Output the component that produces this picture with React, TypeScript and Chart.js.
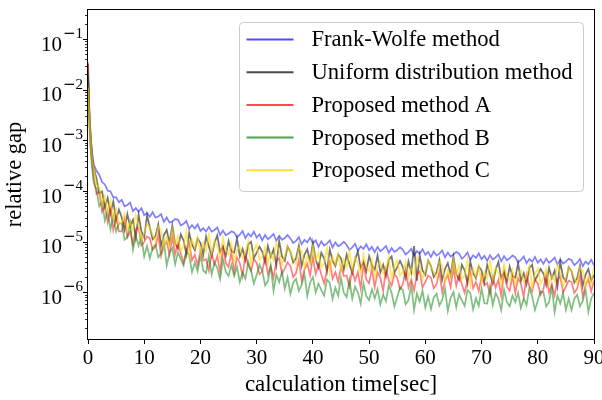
import React, { useEffect, useRef } from "react";
import { Chart, registerables } from "chart.js";

Chart.register(...registerables);

// ---------------- data ----------------
const TIMES = [
  0, 0.2, 0.4, 0.6, 0.8,
  1, 1.5, 2, 2.5, 3, 3.5, 4, 4.5, 5, 5.5,
  6, 6.5, 7, 7.5, 8, 8.5, 9, 9.5, 10, 10.5,
  11, 11.5, 12, 12.5, 13, 13.5, 14, 14.5, 15, 15.5,
  16, 16.5, 17, 17.5, 18, 18.5, 19, 19.5, 20, 20.5,
  21, 21.5, 22, 22.5, 23, 23.5, 24, 24.5, 25, 25.5,
  26, 26.5, 27, 27.5, 28, 28.5, 29, 29.5, 30, 30.5,
  31, 31.5, 32, 32.5, 33, 33.5, 34, 34.5, 35, 35.5,
  36, 36.5, 37, 37.5, 38, 38.5, 39, 39.5, 40, 40.5,
  41, 41.5, 42, 42.5, 43, 43.5, 44, 44.5, 45, 45.5,
  46, 46.5, 47, 47.5, 48, 48.5, 49, 49.5, 50, 50.5,
  51, 51.5, 52, 52.5, 53, 53.5, 54, 54.5, 55, 55.5,
  56, 56.5, 57, 57.5, 58, 58.5, 59, 59.5, 60, 60.5,
  61, 61.5, 62, 62.5, 63, 63.5, 64, 64.5, 65, 65.5,
  66, 66.5, 67, 67.5, 68, 68.5, 69, 69.5, 70, 70.5,
  71, 71.5, 72, 72.5, 73, 73.5, 74, 74.5, 75, 75.5,
  76, 76.5, 77, 77.5, 78, 78.5, 79, 79.5, 80, 80.5,
  81, 81.5, 82, 82.5, 83, 83.5, 84, 84.5, 85, 85.5,
  86, 86.5, 87, 87.5, 88, 88.5, 89, 89.5, 90,
];

const FRANK_WOLFE = [
  2.0e-2, 4.5e-3, 1.6e-3, 8.0e-4, 5.0e-4,
  3.4e-4, 2.5e-4, 2.1e-4, 1.5e-4, 1.35e-4, 1.02e-4, 9.8e-5, 7.5e-5, 7.5e-5, 6.0e-5,
  6.7e-5, 5.0e-5, 5.3e-5, 5.9e-5, 4.0e-5, 4.6e-5, 3.9e-5, 4.6e-5, 3.35e-5, 3.7e-5,
  3.1e-5, 3.8e-5, 3.0e-5, 3.15e-5, 3.5e-5, 2.46e-5, 3.0e-5, 2.4e-5, 2.5e-5, 2.8e-5,
  2.7e-5, 2.1e-5, 2.25e-5, 2.55e-5, 1.8e-5, 2.13e-5, 1.82e-5, 2.2e-5, 1.63e-5, 1.84e-5,
  1.58e-5, 1.96e-5, 1.58e-5, 1.7e-5, 1.9e-5, 1.36e-5, 1.65e-5, 1.35e-5, 1.44e-5, 1.6e-5,
  1.53e-5, 1.23e-5, 1.37e-5, 1.62e-5, 1.18e-5, 1.44e-5, 1.27e-5, 1.58e-5, 1.2e-5, 1.4e-5,
  1.06e-5, 1.36e-5, 1.12e-5, 1.24e-5, 1.42e-5, 1.04e-5, 1.3e-5, 1.09e-5, 1.18e-5, 1.35e-5,
  1.16e-5, 9.4e-6, 1.04e-5, 1.23e-5, 8.9e-6, 1.09e-5, 9.7e-6, 1.2e-5, 9.2e-6, 1.06e-5,
  7.9e-6, 1.01e-5, 8.4e-6, 9.2e-6, 1.06e-5, 7.7e-6, 9.7e-6, 8.1e-6, 8.8e-6, 1.0e-5,
  8.6e-6, 6.9e-6, 7.7e-6, 9.1e-6, 6.6e-6, 8.1e-6, 7.2e-6, 8.9e-6, 6.8e-6, 7.9e-6,
  6.2e-6, 7.9e-6, 6.5e-6, 7.2e-6, 8.2e-6, 6.0e-6, 7.5e-6, 6.3e-6, 6.85e-6, 7.8e-6,
  6.9e-6, 5.6e-6, 6.2e-6, 7.3e-6, 5.3e-6, 6.5e-6, 5.8e-6, 7.1e-6, 5.5e-6, 6.3e-6,
  5.0e-6, 6.4e-6, 5.3e-6, 5.8e-6, 6.7e-6, 4.9e-6, 6.1e-6, 5.1e-6, 5.55e-6, 6.3e-6,
  5.8e-6, 4.6e-6, 5.15e-6, 6.1e-6, 4.4e-6, 5.4e-6, 4.8e-6, 5.9e-6, 4.5e-6, 5.25e-6,
  4.2e-6, 5.4e-6, 4.45e-6, 4.9e-6, 5.6e-6, 4.1e-6, 5.2e-6, 4.3e-6, 4.7e-6, 5.35e-6,
  4.9e-6, 3.9e-6, 4.35e-6, 5.1e-6, 3.75e-6, 4.55e-6, 4.05e-6, 5.0e-6, 3.85e-6, 4.45e-6,
  3.65e-6, 4.65e-6, 3.85e-6, 4.25e-6, 4.85e-6, 3.55e-6, 4.45e-6, 3.7e-6, 4.05e-6, 4.6e-6,
  4.3e-6, 3.45e-6, 3.85e-6, 4.55e-6, 3.3e-6, 4.05e-6, 3.6e-6, 4.4e-6, 3.4e-6,
];

const UNIFORM = [
  3.2e-2, 5.0e-3, 1.8e-3, 8.0e-4, 4.2e-4,
  2.9e-4, 1.8e-4, 9.0e-5, 9.8e-5, 4.8e-5, 7.3e-5, 3.6e-5, 6.2e-5, 2.7e-5, 4.3e-5,
  3.0e-5, 1.7e-5, 3.5e-5, 2.0e-5, 2.7e-5, 1.2e-5, 3.4e-5, 1.6e-5, 1.2e-5, 3.3e-5,
  1.9e-5, 1.12e-5, 1.28e-5, 2.2e-5, 8.4e-6, 1.35e-5, 1.7e-5, 9.4e-6, 2.1e-5, 9.2e-6,
  7.3e-6, 1.4e-5, 1.05e-5, 5.6e-6, 1.5e-5, 8.8e-6, 6.8e-6, 1.15e-5, 9.5e-6, 5.6e-6,
  1.27e-5, 8.0e-6, 5.2e-6, 9.4e-6, 1.34e-5, 6.2e-6, 8.1e-6, 5.2e-6, 1.03e-5, 6.6e-6,
  6.1e-6, 1.16e-5, 5.1e-6, 7.2e-6, 4.3e-6, 8.8e-6, 1.0e-5, 4.8e-6, 6.1e-6, 8.0e-6,
  6.3e-6, 3.9e-6, 8.3e-6, 5.0e-6, 7.1e-6, 3.4e-6, 1.04e-5, 5.1e-6, 4.2e-6, 8.0e-6,
  6.3e-6, 3.9e-6, 4.7e-6, 8.3e-6, 3.3e-6, 5.5e-6, 7.1e-6, 4.1e-6, 9.6e-6, 4.4e-6,
  3.1e-6, 6.1e-6, 4.7e-6, 2.6e-6, 7.0e-6, 4.2e-6, 3.3e-6, 5.6e-6, 4.7e-6, 2.8e-6,
  5.6e-6, 3.6e-6, 2.4e-6, 4.4e-6, 6.4e-6, 3.0e-6, 4.0e-6, 2.6e-6, 5.2e-6, 3.4e-6,
  2.8e-6, 5.4e-6, 2.45e-6, 3.5e-6, 2.1e-6, 4.4e-6, 5.1e-6, 2.45e-6, 3.15e-6, 4.2e-6,
  3.15e-6, 1.9e-6, 4.1e-6, 2.5e-6, 8.2e-6, 1.7e-6, 5.4e-6, 2.7e-6, 2.2e-6, 4.25e-6,
  3.3e-6, 2.0e-6, 2.5e-6, 4.35e-6, 1.75e-6, 2.9e-6, 3.8e-6, 2.2e-6, 5.1e-6, 2.3e-6,
  1.75e-6, 3.5e-6, 2.7e-6, 1.5e-6, 4.05e-6, 2.4e-6, 1.9e-6, 3.25e-6, 2.7e-6, 1.6e-6,
  3.5e-6, 2.25e-6, 1.5e-6, 2.75e-6, 4.0e-6, 1.9e-6, 2.5e-6, 1.6e-6, 3.25e-6, 2.1e-6,
  1.95e-6, 3.75e-6, 1.7e-6, 2.4e-6, 1.45e-6, 3.0e-6, 3.5e-6, 1.7e-6, 2.2e-6, 2.9e-6,
  2.35e-6, 1.4e-6, 3.05e-6, 1.9e-6, 2.7e-6, 1.3e-6, 4.0e-6, 2.0e-6, 1.65e-6, 3.15e-6,
  2.6e-6, 1.55e-6, 1.9e-6, 3.35e-6, 1.35e-6, 2.25e-6, 2.9e-6, 1.7e-6, 2.2e-6,
];

const PROPOSED_A = [
  3.5e-2, 3.2e-3, 1.1e-3, 5.0e-4, 3.0e-4,
  2.0e-4, 8.8e-5, 9.8e-5, 3.9e-5, 5.3e-5, 2.4e-5, 4.3e-5, 1.7e-5, 3.1e-5, 1.6e-5,
  1.6e-5, 2.85e-5, 1.22e-5, 1.6e-5, 9.0e-6, 1.75e-5, 1.9e-5, 8.4e-6, 9.9e-6, 1.27e-5,
  1.17e-5, 6.9e-6, 8.0e-6, 1.35e-5, 5.2e-6, 8.2e-6, 1.01e-5, 5.6e-6, 1.26e-5, 5.6e-6,
  9.4e-6, 5.85e-6, 3.8e-6, 6.7e-6, 9.4e-6, 4.3e-6, 5.5e-6, 3.45e-6, 6.6e-6, 4.25e-6,
  4.5e-6, 2.7e-6, 5.85e-6, 3.6e-6, 5.2e-6, 2.5e-6, 7.65e-6, 3.8e-6, 3.15e-6, 6.1e-6,
  2.5e-6, 4.9e-6, 3.8e-6, 2.1e-6, 5.7e-6, 3.4e-6, 2.65e-6, 4.55e-6, 3.8e-6, 2.3e-6,
  2.6e-6, 5.1e-6, 2.3e-6, 3.27e-6, 1.95e-6, 4.1e-6, 4.75e-6, 2.3e-6, 2.95e-6, 3.9e-6,
  3.3e-6, 2.0e-6, 2.4e-6, 4.3e-6, 1.7e-6, 2.85e-6, 3.7e-6, 2.15e-6, 5.0e-6, 2.3e-6,
  3.5e-6, 2.25e-6, 1.5e-6, 2.7e-6, 4.0e-6, 1.85e-6, 2.5e-6, 1.6e-6, 3.2e-6, 2.1e-6,
  2.15e-6, 1.3e-6, 2.8e-6, 1.7e-6, 2.5e-6, 1.2e-6, 3.65e-6, 1.8e-6, 1.5e-6, 2.9e-6,
  1.25e-6, 2.5e-6, 1.94e-6, 1.07e-6, 2.9e-6, 1.75e-6, 1.35e-6, 2.3e-6, 1.94e-6, 1.15e-6,
  1.45e-6, 2.8e-6, 1.25e-6, 1.8e-6, 1.08e-6, 2.25e-6, 2.6e-6, 1.25e-6, 1.6e-6, 2.15e-6,
  1.95e-6, 1.2e-6, 1.45e-6, 2.55e-6, 1.0e-6, 1.7e-6, 2.2e-6, 1.28e-6, 3.0e-6, 1.35e-6,
  2.25e-6, 1.45e-6, 9.7e-7, 1.77e-6, 2.6e-6, 1.2e-6, 1.6e-6, 1.05e-6, 2.1e-6, 1.37e-6,
  1.54e-6, 9.2e-7, 2.0e-6, 1.23e-6, 1.77e-6, 8.5e-7, 2.6e-6, 1.3e-6, 1.08e-6, 2.1e-6,
  9.6e-7, 1.9e-6, 1.48e-6, 8.1e-7, 2.2e-6, 1.33e-6, 1.04e-6, 1.78e-6, 1.48e-6, 8.9e-7,
  1.15e-6, 2.2e-6, 1.0e-6, 1.43e-6, 8.6e-7, 1.8e-6, 2.05e-6, 1.0e-6, 1.3e-6, 1.7e-6,
  1.6e-6, 9.7e-7, 1.18e-6, 2.1e-6, 8.3e-7, 1.39e-6, 1.8e-6, 1.04e-6, 1.7e-6,
];

const PROPOSED_B = [
  2.2e-2, 2.6e-3, 9.0e-4, 4.0e-4, 2.4e-4,
  1.45e-4, 1.08e-4, 5.0e-5, 6.1e-5, 2.6e-5, 4.0e-5, 1.75e-5, 3.25e-5, 1.6e-5, 2.3e-5,
  2.3e-5, 1.09e-5, 1.23e-5, 2.3e-5, 6.9e-6, 1.32e-5, 8.4e-6, 1.24e-5, 5.1e-6, 8.2e-6,
  4.7e-6, 7.6e-6, 8.8e-6, 4.9e-6, 6.0e-6, 9.8e-6, 3.4e-6, 6.0e-6, 7.5e-6, 3.6e-6,
  6.2e-6, 4.5e-6, 3.4e-6, 6.5e-6, 5.4e-6, 2.5e-6, 3.9e-6, 2.6e-6, 5.4e-6, 2.7e-6,
  2.4e-6, 5.25e-6, 2.25e-6, 3.9e-6, 3.0e-6, 1.8e-6, 4.5e-6, 2.55e-6, 2.1e-6, 3.45e-6,
  2.1e-6, 3.2e-6, 1.6e-6, 2.48e-6, 1.86e-6, 4.0e-6, 2.7e-6, 1.5e-6, 2.2e-6, 3.5e-6,
  2.65e-6, 1.38e-6, 1.67e-6, 3.35e-6, 1.08e-6, 2.25e-6, 1.58e-6, 2.55e-6, 1.18e-6, 1.97e-6,
  9.3e-7, 1.55e-6, 1.86e-6, 1.08e-6, 1.4e-6, 2.3e-6, 8.5e-7, 1.55e-6, 2.0e-6, 1.0e-6,
  1.48e-6, 1.1e-6, 8.6e-7, 1.78e-6, 1.54e-6, 7.4e-7, 1.23e-6, 8.6e-7, 1.9e-6, 9.8e-7,
  8.0e-7, 1.75e-6, 7.5e-7, 1.3e-6, 1.0e-6, 6.0e-7, 1.5e-6, 8.5e-7, 7.0e-7, 1.15e-6,
  7.6e-7, 1.16e-6, 5.8e-7, 8.9e-7, 6.7e-7, 1.42e-6, 9.8e-7, 5.3e-7, 8.0e-7, 1.25e-6,
  1.11e-6, 5.8e-7, 7.0e-7, 1.4e-6, 4.5e-7, 9.5e-7, 6.6e-7, 1.07e-6, 5.0e-7, 8.25e-7,
  4.7e-7, 7.85e-7, 9.4e-7, 5.5e-7, 7.1e-7, 1.18e-6, 4.3e-7, 7.85e-7, 1.02e-6, 5.1e-7,
  9.2e-7, 6.9e-7, 5.4e-7, 1.11e-6, 9.6e-7, 4.6e-7, 7.65e-7, 5.4e-7, 1.19e-6, 6.1e-7,
  6.0e-7, 1.31e-6, 5.6e-7, 9.8e-7, 7.5e-7, 4.5e-7, 1.13e-6, 6.4e-7, 5.3e-7, 8.6e-7,
  6.4e-7, 9.8e-7, 4.9e-7, 7.5e-7, 5.6e-7, 1.2e-6, 8.3e-7, 4.5e-7, 6.8e-7, 1.05e-6,
  1.01e-6, 5.3e-7, 6.4e-7, 1.28e-6, 4.1e-7, 8.6e-7, 6.0e-7, 9.8e-7, 4.5e-7, 7.5e-7,
  4.5e-7, 7.5e-7, 9.0e-7, 5.3e-7, 6.8e-7, 1.13e-6, 4.1e-7, 7.5e-7, 9.8e-7,
];

const PROPOSED_C = [
  1.1e-2, 4.0e-3, 1.5e-3, 7.0e-4, 3.8e-4,
  2.9e-4, 1.3e-4, 1.2e-4, 5.7e-5, 8.0e-5, 3.9e-5, 6.4e-5, 2.9e-5, 4.4e-5, 2.2e-5,
  2.4e-5, 3.45e-5, 1.65e-5, 2.4e-5, 1.65e-5, 3.35e-5, 2.1e-5, 1.08e-5, 1.5e-5, 2.25e-5,
  1.9e-5, 1.37e-5, 1.0e-5, 2.0e-5, 1.66e-5, 7.7e-6, 1.24e-5, 8.3e-6, 1.77e-5, 8.7e-6,
  1.28e-5, 6.7e-6, 8.1e-6, 1.6e-5, 5.2e-6, 1.09e-5, 7.6e-6, 1.24e-5, 5.7e-6, 9.5e-6,
  6.4e-6, 1.4e-5, 6.0e-6, 1.04e-5, 8.0e-6, 4.8e-6, 1.2e-5, 6.8e-6, 5.6e-6, 9.2e-6,
  4.05e-6, 6.75e-6, 8.1e-6, 4.7e-6, 6.1e-6, 1.01e-5, 3.7e-6, 6.75e-6, 8.8e-6, 4.4e-6,
  5.0e-6, 7.7e-6, 3.8e-6, 5.9e-6, 4.4e-6, 9.4e-6, 6.5e-6, 3.5e-6, 5.3e-6, 8.3e-6,
  6.2e-6, 4.7e-6, 3.6e-6, 7.5e-6, 6.5e-6, 3.1e-6, 5.2e-6, 3.6e-6, 8.1e-6, 4.2e-6,
  6.0e-6, 3.1e-6, 3.8e-6, 7.6e-6, 2.45e-6, 5.1e-6, 3.6e-6, 5.8e-6, 2.7e-6, 4.45e-6,
  3.05e-6, 6.6e-6, 2.85e-6, 4.9e-6, 3.8e-6, 2.3e-6, 5.7e-6, 3.2e-6, 2.65e-6, 4.4e-6,
  2.0e-6, 3.3e-6, 4.0e-6, 2.3e-6, 3.0e-6, 4.95e-6, 1.8e-6, 3.3e-6, 4.3e-6, 2.15e-6,
  2.55e-6, 3.9e-6, 1.95e-6, 3.0e-6, 2.25e-6, 4.8e-6, 3.3e-6, 1.8e-6, 2.7e-6, 4.2e-6,
  3.3e-6, 2.5e-6, 1.95e-6, 4.0e-6, 3.45e-6, 1.65e-6, 2.75e-6, 1.95e-6, 4.3e-6, 2.2e-6,
  3.45e-6, 1.8e-6, 2.2e-6, 4.35e-6, 1.4e-6, 2.95e-6, 2.05e-6, 3.35e-6, 1.55e-6, 2.55e-6,
  1.9e-6, 4.2e-6, 1.8e-6, 3.1e-6, 2.4e-6, 1.45e-6, 3.6e-6, 2.05e-6, 1.7e-6, 2.75e-6,
  1.4e-6, 2.3e-6, 2.75e-6, 1.6e-6, 2.05e-6, 3.45e-6, 1.25e-6, 2.3e-6, 3.0e-6, 1.5e-6,
  1.9e-6, 2.9e-6, 1.45e-6, 2.2e-6, 1.65e-6, 3.55e-6, 2.45e-6, 1.35e-6, 2.0e-6, 3.1e-6,
  2.55e-6, 1.9e-6, 1.5e-6, 3.1e-6, 2.65e-6, 1.3e-6, 2.15e-6, 1.5e-6, 3.3e-6,
];

const SERIES_LABELS = [
  "Frank-Wolfe method",
  "Uniform distribution method",
  "Proposed method A",
  "Proposed method B",
  "Proposed method C",
];

const X_MIN = 0;
const X_MAX = 90;
const X_STEP = 10;
const Y_MIN = 1.2e-7;
const Y_MAX = 0.374;
const Y_MAJOR_TICKS = [1e-1, 1e-2, 1e-3, 1e-4, 1e-5, 1e-6];
const Y_MAJOR_EXPONENTS = ["1", "2", "3", "4", "5", "6"];
const Y_MINOR_DECADES = [1e-7, 1e-6, 1e-5, 1e-4, 1e-3, 1e-2, 1e-1];
const Y_MINOR_MULTIPLIERS = [2, 3, 4, 5, 6, 7, 8, 9];

// ---------------- styles ----------------
const LINE_COLORS = [
  "rgba(0,0,255,0.5)",
  "rgba(0,0,0,0.55)",
  "rgba(255,0,0,0.5)",
  "rgba(0,128,0,0.5)",
  "rgba(255,215,0,0.6)",
];
const LEGEND_COLORS = [
  "rgba(0,0,255,0.7)",
  "rgba(0,0,0,0.7)",
  "rgba(255,0,0,0.7)",
  "rgba(0,128,0,0.7)",
  "rgba(255,215,0,0.8)",
];
const SERIF = '"Liberation Serif", "Times New Roman", serif';

const decorPlugin = {
  id: "decor",
  afterDraw(chart: any) {
    const { ctx, chartArea: a, scales } = chart;
    const y = scales.y;
    ctx.save();
    // frame
    ctx.strokeStyle = "#000";
    ctx.lineWidth = 1;
    ctx.strokeRect(a.left - 0.5, a.top - 0.5, a.right - a.left + 1, a.bottom - a.top + 1);

    // minor y ticks
    ctx.lineWidth = 0.8;
    ctx.beginPath();
    for (const d of Y_MINOR_DECADES) {
      for (const m of Y_MINOR_MULTIPLIERS) {
        const v = d * m;
        if (v < Y_MIN || v > Y_MAX) continue;
        const py = Math.round(y.getPixelForValue(v)) + 0.5;
        ctx.moveTo(a.left - 3, py);
        ctx.lineTo(a.left, py);
      }
    }
    ctx.stroke();

    // major y ticks + labels
    ctx.lineWidth = 1;
    ctx.fillStyle = "#000";
    Y_MAJOR_TICKS.forEach((v, i) => {
      const py0 = y.getPixelForValue(v);
      const py = Math.round(py0) + 0.5;
      ctx.beginPath();
      ctx.moveTo(a.left - 5, py);
      ctx.lineTo(a.left, py);
      ctx.stroke();

      const xr = a.left - 5;
      ctx.textBaseline = "alphabetic";
      ctx.textAlign = "left";
      ctx.font = "15px " + SERIF;
      const digitW = ctx.measureText(Y_MAJOR_EXPONENTS[i]).width;
      ctx.font = '15px "DejaVu Sans"';
      const minusW = ctx.measureText("\u2212").width;
      ctx.font = "21px " + SERIF;
      const baseW = ctx.measureText("10").width;
      const supX = xr - digitW - minusW;
      ctx.fillText("10", supX - 1 - baseW, py0 + 11.5);
      ctx.font = '15px "DejaVu Sans"';
      ctx.fillText("\u2212", supX, py0 - 1);
      ctx.font = "15px " + SERIF;
      ctx.fillText(Y_MAJOR_EXPONENTS[i], supX + minusW, py0 - 1);
    });

    // legend
    const lx = a.left + 151.5;
    const ly = a.top + 12.5;
    const lw = 344;
    const lh = 169;
    ctx.beginPath();
    (ctx as any).roundRect(lx, ly, lw, lh, 4);
    ctx.fillStyle = "rgba(255,255,255,0.8)";
    ctx.fill();
    ctx.strokeStyle = "#cccccc";
    ctx.lineWidth = 1;
    ctx.stroke();
    ctx.font = "22.6px " + SERIF;
    ctx.textBaseline = "middle";
    SERIES_LABELS.forEach((label, i) => {
      const ry = ly + 17 + i * 32.7;
      ctx.beginPath();
      ctx.strokeStyle = LEGEND_COLORS[i];
      ctx.lineWidth = 2;
      ctx.moveTo(lx + 7, ry);
      ctx.lineTo(lx + 54, ry);
      ctx.stroke();
      ctx.fillStyle = "#000";
      ctx.fillText(label, lx + 72, ry + 1);
    });
    ctx.restore();
  },
};

export default function App() {
  const canvasRef = useRef<HTMLCanvasElement | null>(null);

  useEffect(() => {
    const canvas = canvasRef.current;
    if (!canvas) return;
    const series = [FRANK_WOLFE, UNIFORM, PROPOSED_A, PROPOSED_B, PROPOSED_C];
    const chart = new Chart(canvas, {
      type: "line",
      data: {
        datasets: series.map((vals, i) => ({
          label: SERIES_LABELS[i],
          data: TIMES.map((t, j) => ({ x: t, y: vals[j] })),
          borderColor: LINE_COLORS[i],
          backgroundColor: LINE_COLORS[i],
          borderWidth: 1.7,
          pointRadius: 0,
          tension: 0,
          fill: false,
          order: series.length - i,
        })),
      },
      options: {
        responsive: false,
        animation: false,
        devicePixelRatio: 1,
        layout: { padding: { left: 0, right: 8, top: 10, bottom: 0 } },
        plugins: {
          legend: { display: false },
          tooltip: { enabled: false },
        },
        scales: {
          x: {
            type: "linear",
            min: X_MIN,
            max: X_MAX,
            ticks: {
              stepSize: X_STEP,
              autoSkip: false,
              maxRotation: 0,
              color: "#000",
              padding: 2,
              font: { family: SERIF, size: 21 },
            },
            grid: {
              display: true,
              drawOnChartArea: false,
              drawTicks: true,
              tickLength: 5,
              tickColor: "#000",
              tickWidth: 1,
            },
            border: { display: false },
            title: {
              display: true,
              text: "calculation time[sec]",
              color: "#000",
              font: { family: SERIF, size: 23 },
              padding: { top: 0, bottom: 1 },
            },
            afterFit: (s: any) => {
              s.height = 61;
              s.paddingLeft = 0;
              s.paddingRight = 0;
            },
          },
          y: {
            type: "logarithmic",
            min: Y_MIN,
            max: Y_MAX,
            ticks: { display: false },
            grid: { display: false },
            border: { display: false },
            title: {
              display: true,
              text: "relative gap",
              color: "#000",
              font: { family: SERIF, size: 22.5 },
              padding: { top: 2, bottom: 0 },
            },
            afterFit: (s: any) => {
              s.width = 88;
            },
          },
        },
      } as any,
      plugins: [decorPlugin],
    });
    return () => chart.destroy();
  }, []);

  return (
    <div style={{ position: "absolute", left: 0, top: 0, width: 602, height: 400, background: "#fff" }}>
      <canvas ref={canvasRef} width={602} height={400} style={{ display: "block", width: 602, height: 400 }} />
    </div>
  );
}
